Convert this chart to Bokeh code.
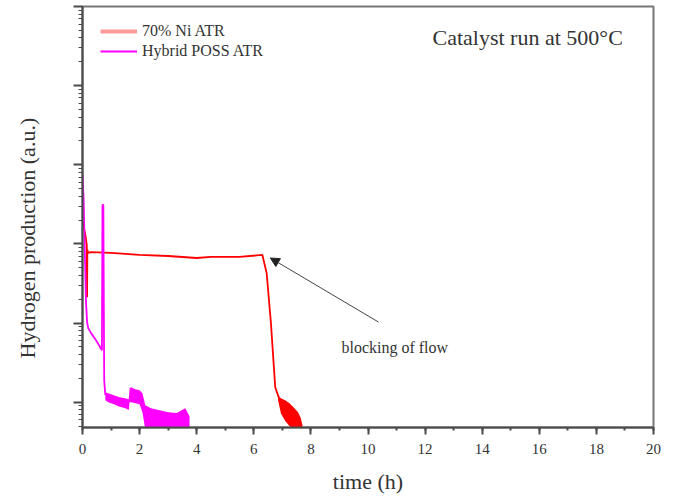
from bokeh.plotting import figure
from bokeh.models import (SingleIntervalTicker, LogTicker, CustomJSTickFormatter, Label, Arrow,
                          NormalHead, Legend, LegendItem, Range1d, Title, LogAxis)
from bokeh.embed import file_html
from bokeh.resources import INLINE

# ---- data ----
# 70% Ni ATR : main trace
ni_t = [0, 0.05, 0.1, 0.15, 0.16, 0.17, 0.2, 0.3, 1.0, 2.0, 3.0, 4.0, 4.5, 5.5, 6.3,
        6.45, 6.6, 6.75, 6.87]
ni_v = [190, 160, 130, 97, 21.3, 84, 77, 79, 77, 72.6, 70.5, 66.5, 68.5, 68.5, 72.6,
        43, 10, 1.55, 1.16]
# 70% Ni ATR : noisy tail envelope
ni_band_t = [6.85, 6.95, 7.1, 7.25, 7.4, 7.55, 7.65, 7.72]
ni_band_hi = [1.23, 1.12, 1.06, 0.97, 0.86, 0.75, 0.63, 0.48]
ni_band_lo = [1.06, 0.72, 0.58, 0.50, 0.45, 0.45, 0.45, 0.45]

# Hybrid POSS ATR : main trace
poss_t = [0, 0.04, 0.08, 0.12, 0.16, 0.2, 0.3, 0.45, 0.6, 0.68, 0.7, 0.73, 0.76, 0.8]
poss_v = [747, 361, 84, 19.6, 10.3, 8.64, 7.47, 6.27, 5.11, 4.55, 312, 312, 1.9, 1.23]
# Hybrid POSS ATR : noisy envelope
poss_band_t = [0.8, 0.9, 1.1, 1.3, 1.5, 1.62, 1.65, 1.7, 1.85, 2.0, 2.1, 2.2, 2.4, 2.7,
               3.0, 3.3, 3.6, 3.75]
poss_band_hi = [1.34, 1.30, 1.23, 1.16, 1.12, 1.09, 1.50, 1.55, 1.46, 1.42, 1.30, 0.916,
                0.84, 0.79, 0.75, 0.73, 0.84, 0.665]
poss_band_lo = [1.06, 1.0, 0.943, 0.88, 0.84, 0.80, 1.0, 1.0, 0.97, 0.943, 0.75, 0.45,
                0.45, 0.45, 0.45, 0.45, 0.45, 0.45]

series_names = ["70% Ni ATR", "Hybrid POSS ATR"]

FONT = "Liberation Serif"
AXC = "#4a4a4a"
TXT = "#333333"

p = figure(width=673, height=499, output_backend="svg", toolbar_location=None,
           y_axis_type="log", x_range=Range1d(0, 20), y_range=Range1d(0.48, 1.0e5),
           min_border_left=82, min_border_right=20, min_border_top=6, min_border_bottom=72)
p.grid.visible = False
p.outline_line_color = "#777777"
p.outline_line_width = 2
p.background_fill_color = "white"

red = p.line(ni_t, ni_v, color="#ff0000", line_width=1.8)
p.varea(x=ni_band_t, y1=ni_band_lo, y2=ni_band_hi, fill_color="#ff0000")
mag = p.line(poss_t, poss_v, color="#ff00ff", line_width=1.8)
p.varea(x=poss_band_t, y1=poss_band_lo, y2=poss_band_hi, fill_color="#ff00ff")

# legend proxies (outside the visible range)
leg_red = p.line([-5, -4], [1, 1], color="#ff9a9a", line_width=4)
leg_mag = p.line([-5, -4], [1, 1], color="#ff00ff", line_width=2)
legend = Legend(items=[LegendItem(label=series_names[0], renderers=[leg_red]),
                       LegendItem(label=series_names[1], renderers=[leg_mag])],
                location=(18, 366), padding=0, margin=0, spacing=0,
                glyph_width=37, glyph_height=20, label_height=20, label_standoff=5,
                label_text_font=FONT, label_text_font_size="16px", label_text_color=TXT,
                border_line_color=None, background_fill_alpha=0)
p.add_layout(legend)

# axes
xa = p.xaxis[0]
xa.ticker = SingleIntervalTicker(interval=2, num_minor_ticks=2)
xa.axis_label = "time (h)"
xa.axis_label_text_font = FONT
xa.axis_label_text_font_style = "normal"
xa.axis_label_text_font_size = "22px"
xa.axis_label_text_color = TXT
xa.axis_label_standoff = 12
xa.major_label_text_font = FONT
xa.major_label_text_font_size = "15px"
xa.major_label_text_color = TXT
xa.major_label_standoff = 9
xa.axis_line_color = AXC
xa.axis_line_width = 2
xa.major_tick_line_color = AXC
xa.major_tick_line_width = 2
xa.minor_tick_line_color = AXC
xa.minor_tick_line_width = 2
xa.major_tick_out = 7
xa.major_tick_in = 0
xa.minor_tick_out = 3
xa.minor_tick_in = 0

ya = p.yaxis[0]
ya.ticker = LogTicker(mantissas=[1], desired_num_ticks=8, num_minor_ticks=10)
ya.formatter = CustomJSTickFormatter(code="return ''")
ya.major_label_standoff = 0
ya.axis_line_color = AXC
ya.axis_line_width = 2
ya.major_tick_line_color = AXC
ya.major_tick_line_width = 2
ya.minor_tick_line_color = AXC
ya.minor_tick_line_width = 1
ya.major_tick_out = 9
ya.major_tick_in = 0
ya.minor_tick_out = 4
ya.minor_tick_in = 0

# invisible spacer axis so the title sits further left
spacer = LogAxis(ticker=LogTicker(mantissas=[1], desired_num_ticks=8, num_minor_ticks=0),
                 formatter=CustomJSTickFormatter(code="return ''"),
                 axis_line_color=None, major_tick_line_color=None, minor_tick_line_color=None,
                 major_tick_out=34, major_tick_in=0, minor_tick_out=0, minor_tick_in=0,
                 major_label_standoff=0)
p.add_layout(spacer, "left")

# y axis title (placed lower than centre, as in the original)
p.add_layout(Title(text="Hydrogen production (a.u.)", align="left", offset=69, standoff=0,
                   text_font=FONT, text_font_size="22px", text_font_style="normal",
                   text_color=TXT), "left")

# annotations
p.add_layout(Label(x=12.26, y=40500, text="Catalyst run at 500°C", text_font=FONT,
                   text_font_size="22px", text_color=TXT, text_baseline="middle"))
p.add_layout(Label(x=9.07, y=4.97, text="blocking of flow", text_font=FONT,
                   text_font_size="16px", text_color=TXT, text_baseline="middle"))
p.add_layout(Arrow(x_start=10.37, y_start=10.3, x_end=6.58, y_end=66.5,
                   line_color="#444444", line_width=1,
                   end=NormalHead(size=9, line_color="#222222", fill_color="#222222")))

open("out.html", "w").write(file_html(p, INLINE))
